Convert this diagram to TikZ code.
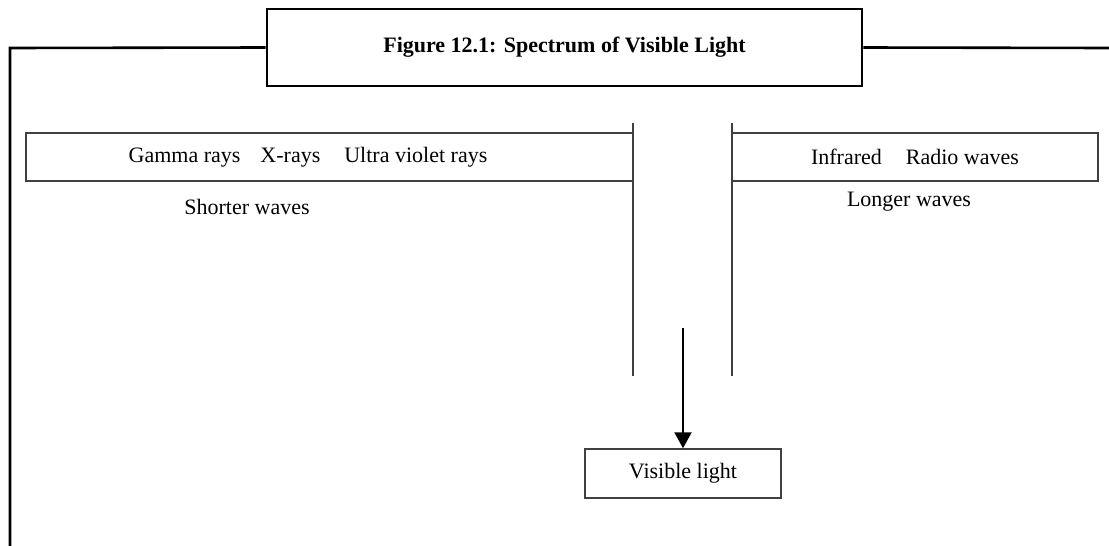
\documentclass[tikz,border=0pt]{standalone}
\usepackage{fontspec}
\setmainfont{Liberation Serif}
\usepackage{tikz}
\usetikzlibrary{arrows.meta,positioning,calc}
\tikzset{
  framebox/.style = {draw, line width=2.6pt, rectangle, inner sep=0pt,
                     minimum width=595pt, minimum height=77pt},
  bandbox/.style  = {draw=black!75, line width=1.5pt, rectangle, inner sep=0pt,
                     minimum height=48pt},
  frameline/.style= {line width=2.6pt},
  gapline/.style  = {draw=black!75, line width=1.5pt},
  sig/.style      = {-{Triangle[length=16pt,width=17pt]}, line width=2.2pt},
}

\begin{document}
\begin{tikzpicture}[x=1pt, y=-1pt, font=\fontsize{22}{26}\selectfont]
\useasboundingbox (0,0) rectangle (1109,546);
% ---- title and outer frame ----
\node[framebox] (title) at (564.5,47.5)
      {\bfseries Figure 12.1: Spectrum of Visible Light};
\coordinate (frametl) at (10,48);
\coordinate (framebl) at (10,546);
\coordinate (frametr) at (1109,48);
\draw[frameline] (framebl) -- (frametl) -- (title.west);
\draw[frameline] (title.east) -- (frametr);
% ---- shorter waves band ----
\node[bandbox, minimum width=607pt] (shortband) at (329.5,157) {};
\node (shortlist) at (308,157)
      {Gamma rays\hspace{20pt}X-rays\hspace{24pt}Ultra violet rays};
\node (shortlbl) at (247,207) {Shorter waves};
% ---- longer waves band ----
\node[bandbox, minimum width=366pt] (longband) at (915,157)
      {Infrared\hspace{24pt}Radio waves};
\node (longlbl) at (909,202) {Longer waves};
% ---- the gap for visible light ----
\coordinate (gapltop) at (633,123);
\coordinate (gaplbot) at (633,376);
\coordinate (gaprtop) at (732,123);
\coordinate (gaprbot) at (732,376);
\draw[gapline] (gapltop) -- (gaplbot);
\draw[gapline] (gaprtop) -- (gaprbot);
% ---- visible light ----
\node[bandbox, minimum width=196pt, minimum height=49pt] (visible)
      at (683,473.5) {Visible light};
\coordinate (arrowtop) at (683,328);
\draw[sig] (arrowtop) -- (visible.north);
\end{tikzpicture}
\end{document}
